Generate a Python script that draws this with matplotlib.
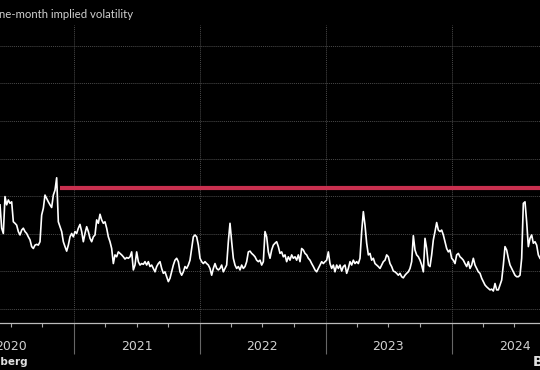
import pandas as pd
import matplotlib.pyplot as plt
import matplotlib.dates as mdates

# One-month implied volatility (%), sampled roughly every 116 hours from late May 2020
start = '2020-05-31'
step = '116h'
vol = [
    5.77, 5.15, 5.01, 5.99, 5.77, 5.90, 5.81, 5.85, 5.32, 5.28, 5.23, 5.06, 4.97, 5.10, 5.15, 5.06,
    5.01, 4.92, 4.84, 4.66, 4.61, 4.70, 4.72, 4.70, 4.79, 5.50, 5.68, 6.03, 5.94, 5.85, 5.77, 5.70,
    6.03, 6.16, 6.49, 5.32, 5.19, 5.06, 4.79, 4.66, 4.54, 4.70, 4.92, 5.01, 4.92, 5.06, 5.01, 5.15,
    5.25, 5.06, 4.79, 5.01, 5.19, 5.06, 4.88, 4.79, 4.92, 4.97, 5.37, 5.28, 5.52, 5.37, 5.28, 5.32,
    5.15, 4.92, 4.79, 4.61, 4.21, 4.44, 4.39, 4.52, 4.48, 4.44, 4.39, 4.33, 4.37, 4.35, 4.39, 4.52,
    4.04, 4.17, 4.52, 4.26, 4.17, 4.21, 4.19, 4.26, 4.17, 4.26, 4.13, 4.17, 4.08, 3.99, 4.13, 4.21,
    4.26, 4.08, 3.95, 3.99, 3.86, 3.73, 3.82, 3.99, 4.17, 4.30, 4.35, 4.26, 3.99, 3.90, 3.99, 4.13,
    4.08, 4.17, 4.30, 4.61, 4.92, 4.97, 4.92, 4.70, 4.35, 4.26, 4.21, 4.26, 4.21, 4.17, 4.08, 3.90,
    4.08, 4.21, 4.08, 4.04, 4.08, 4.17, 3.99, 4.08, 4.17, 4.79, 5.28, 4.79, 4.35, 4.17, 4.08, 4.13,
    4.04, 4.17, 4.08, 4.13, 4.26, 4.52, 4.54, 4.48, 4.44, 4.39, 4.30, 4.26, 4.30, 4.17, 4.26, 5.06,
    4.92, 4.52,
    4.35, 4.57, 4.70, 4.75, 4.79, 4.66, 4.48, 4.52, 4.39, 4.44, 4.26, 4.39, 4.30, 4.44, 4.35, 4.39,
    4.30, 4.44, 4.26, 4.61, 4.57, 4.48, 4.44, 4.35, 4.30, 4.21, 4.13, 4.04, 3.99, 4.08, 4.17, 4.26,
    4.21, 4.26, 4.30, 4.52, 4.21, 4.08, 4.17, 3.99, 4.17, 4.08, 4.17, 4.01, 4.13, 4.17, 3.95, 4.08,
    4.26, 4.17, 4.30, 4.21, 4.26, 4.21, 4.35, 5.06, 5.59, 5.23, 4.75, 4.44, 4.48, 4.30, 4.35, 4.21,
    4.17, 4.13, 4.08, 4.17, 4.26, 4.30, 4.44, 4.39, 4.21, 4.13, 4.01, 3.99, 3.95, 3.90, 3.95, 3.86,
    3.83, 3.90, 3.95, 3.99, 4.08, 4.26, 4.95, 4.57, 4.44, 4.39, 4.30, 4.17, 3.99, 4.88, 4.61, 4.17,
    4.13, 4.44, 4.84, 5.06, 5.30, 5.10, 5.06, 5.10, 4.97, 4.79, 4.61, 4.52, 4.57, 4.35, 4.30, 4.21,
    4.44, 4.48, 4.39, 4.35, 4.30, 4.21, 4.13, 4.26, 4.08, 4.17, 4.35, 4.17, 4.08, 3.99, 3.95, 3.82,
    3.73, 3.64, 3.59, 3.55, 3.51, 3.53, 3.48, 3.68, 3.51, 3.51, 3.64, 3.77, 4.17, 4.66, 4.57, 4.35,
    4.17, 4.08, 3.99, 3.90, 3.86, 3.86, 3.90, 4.35, 5.81, 5.85, 5.32, 4.66, 4.88, 4.97, 4.75, 4.79,
    4.70, 4.44, 4.35,
]
dates = pd.date_range(start, periods=len(vol), freq=step)

# Red reference level
ref_level = 6.23
ref_start = '2020-11-20'
ref_end = '2024-12-31'

years = [2020, 2021, 2022, 2023, 2024]

fig = plt.figure(figsize=(5.4, 3.7), dpi=100, facecolor='black')
ax = fig.add_axes([0, 1 - 323 / 370, 1, 298 / 370], facecolor='black')

ax.plot(dates, vol, color='white', linewidth=1.2, zorder=3)
ax.hlines(ref_level, pd.Timestamp(ref_start), pd.Timestamp(ref_end),
          color='#c9304f', linewidth=3, zorder=2)

ax.set_xlim(dates[0], dates[-1])
ax.set_ylim(2.63, 10.55)

# Grid
ax.set_yticks(range(3, 11))
ax.xaxis.set_major_locator(mdates.YearLocator())
ax.xaxis.set_minor_locator(mdates.MonthLocator(bymonth=[4, 7, 10]))
ax.grid(True, which='major', color='#4a4a4a', linewidth=0.7, linestyle=(0, (1, 1)))
ax.tick_params(axis='y', left=False, labelleft=False)
ax.tick_params(axis='x', which='major', length=22, color='#666666', width=0.8, labelbottom=False)
ax.tick_params(axis='x', which='minor', length=3, color='#aaaaaa', width=0.8)

for side in ['top', 'left', 'right']:
    ax.spines[side].set_visible(False)
ax.spines['bottom'].set_color('#bbbbbb')
ax.spines['bottom'].set_linewidth(0.9)

# Year labels at mid-year
for y in years:
    ax.text(pd.Timestamp(f'{y}-07-01'), -0.08, str(y), transform=ax.get_xaxis_transform(),
            ha='center', va='center', color='#d0d0d0', fontsize=9, family='DejaVu Sans')

fig.text(-9.5 / 540, 1 - 18 / 370, 'One-month implied volatility', ha='left', va='baseline',
         color='#cfcfcf', fontsize=8.2, family='Lato')
fig.text(28 / 540, 1 - 365 / 370, 'Source: Bloomberg', ha='right', va='baseline',
         color='#e0e0e0', fontsize=7.5, fontweight='bold', family='DejaVu Sans')
fig.text(533 / 540, 1 - 366 / 370, 'Bloomberg', ha='left', va='baseline',
         color='#e0e0e0', fontsize=10, fontweight='bold', family='DejaVu Sans')

fig.savefig('out.png', dpi=100, facecolor='black')
